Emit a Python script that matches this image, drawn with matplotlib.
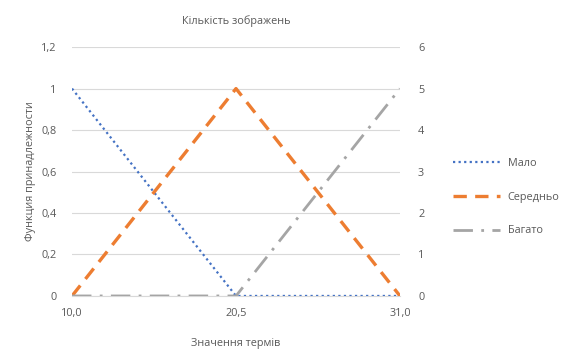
import matplotlib
matplotlib.use("Agg")
import matplotlib.pyplot as plt

categories = ["10,0", "20,5", "31,0"]
malo = [1.0, 0.0, 0.0]
serednyo = [0.0, 1.0, 0.0]
bagato = [0.0, 0.0, 1.0]
left_ticks = [0, 0.2, 0.4, 0.6, 0.8, 1.0, 1.2]
left_labels = ["0", "0,2", "0,4", "0,6", "0,8", "1", "1,2"]
right_ticks = [0, 1, 2, 3, 4, 5, 6]

plt.rcParams['font.family'] = ['Open Sans', 'DejaVu Sans']
txt = "#595959"
fs = 7.8

fig = plt.figure(figsize=(5.84, 3.49), dpi=100)
ax = fig.add_axes([0.1233, 0.152, 0.5616, 0.713])
x = list(range(len(categories)))

ax.plot(x, malo, color="#4472C4", lw=1.6, ls=(0, (1, 1.5)), label="Мало", zorder=3)
ax.plot(x, serednyo, color="#ED7D31", lw=2.4, ls=(0, (4, 2.5)), label="Середньо", zorder=3)
ax.plot(x, bagato, color="#A5A5A5", lw=2.0, ls=(0, (7, 3, 1, 3)), label="Багато", zorder=3)

ax.set_xlim(0, 2)
ax.set_ylim(0, 1.2)
ax.set_xticks(x)
ax.set_xticklabels(categories)
ax.set_yticks(left_ticks)
ax.set_yticklabels(left_labels)
ax.grid(axis="y", color="#D9D9D9", lw=0.8)
ax.set_axisbelow(True)
for s in ["top", "right", "left"]:
    ax.spines[s].set_visible(False)
ax.spines["bottom"].set_color("#D9D9D9")
ax.tick_params(axis="both", length=0, colors=txt, labelsize=fs)
ax.tick_params(axis="y", pad=11)
ax.tick_params(axis="x", pad=9)

ax2 = ax.twinx()
ax2.set_ylim(0, 6)
ax2.set_yticks(right_ticks)
for s in ["top", "right", "left", "bottom"]:
    ax2.spines[s].set_visible(False)
ax2.tick_params(axis="y", length=0, colors=txt, labelsize=fs, pad=13)

ax.set_title("Кількість зображень", color=txt, fontsize=fs, pad=17)
ax.set_xlabel("Значення термів", color=txt, fontsize=fs, labelpad=13)
ax.set_ylabel("Функция принадлежности", color=txt, fontsize=fs, labelpad=4)

fig.legend(loc="center left", bbox_to_anchor=(0.775, 0.435), frameon=False,
           fontsize=fs, labelcolor=txt, handlelength=4.4, handletextpad=0.7,
           labelspacing=2.1, borderpad=0, borderaxespad=0)

fig.savefig("out.png", dpi=100, facecolor="white")
